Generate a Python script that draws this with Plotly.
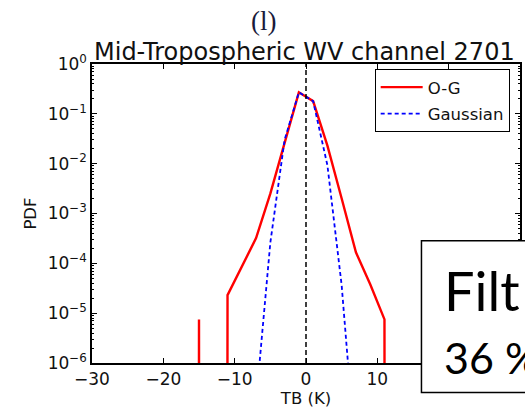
import plotly.graph_objects as go

# ---------------- data ----------------
og_x = [-17, -15, -13, -11, -9, -7, -5, -3, -1, 1, 3, 5, 7, 9, 11, 13]
og_pdf = [0, 7.5e-6, 0, 2.3e-5, 8.5e-5, 3.2e-4, 2.5e-3, 2.6e-2, 0.27, 0.18,
          2.3e-2, 2.0e-3, 1.66e-4, 3.8e-5, 7.5e-6, 0]

gauss_x = [-9, -7, -5, -3, -1, 1, 3, 5, 7, 9]
gauss_pdf = [1e-11, 1.7e-7, 2.6e-4, 3.0e-2, 0.27, 0.18, 9.3e-3, 3.6e-5, 1.1e-8, 1e-12]

x_ticks = [-30, -20, -10, 0, 10, 20, 30]
x_ticklabels = ["\u221230", "\u221220", "\u221210", "0", "10", "", ""]  # 20, 30 hidden under the box
y_tick_exp = [0, -1, -2, -3, -4, -5, -6]

title_top = "(l)"
title_main = "Mid-Tropospheric WV channel 2701"
box_line1 = "Filt"
box_line2 = "36 %"

# zero bins cannot be drawn on a log axis: push them far below the range
TINY = 1e-300
og_plot = [v if v > 0 else TINY for v in og_pdf]

# minor tick positions for the log axis
minor_vals = [m * 10 ** e for e in range(-6, 0) for m in range(2, 10)]

# ---------------- figure ----------------
W, H = 525, 408
L, R, T, B = 92, 3, 64, 41
pw, ph = W - L - R, H - T - B

def px(xp):
    return (xp - L) / pw

def py(yp):
    return (H - B - yp) / ph

fig = go.Figure()

fig.add_trace(go.Scatter(
    x=og_x, y=og_plot, mode="lines", name="O-G",
    line=dict(color="#ff0000", width=2.4), legendgroup="a"))
fig.add_trace(go.Scatter(
    x=gauss_x, y=gauss_pdf, mode="lines", name="Gaussian",
    line=dict(color="#0000ff", width=1.8, dash="4px,3px"), legendgroup="b"))

# vertical dashed zero line
fig.add_shape(type="line", xref="x", yref="paper", x0=0, x1=0, y0=0, y1=1,
              line=dict(color="black", width=1.5, dash="5px,3px"), layer="above")

tickfont = dict(family="DejaVu Sans", size=17, color="#111")
labfont = dict(family="DejaVu Sans", size=16.5, color="#111")

fig.update_xaxes(
    range=[-30, 30], tickvals=x_ticks, ticktext=x_ticklabels,
    ticks="inside", ticklen=5, tickwidth=1.2, tickcolor="black",
    showline=True, linecolor="black", linewidth=1.5, mirror="allticks",
    showgrid=False, zeroline=False, tickfont=tickfont,
    title=dict(text="TB (K)", font=labfont, standoff=4),
)
fig.update_yaxes(
    type="log", range=[-6, 0],
    tickvals=[10 ** e for e in y_tick_exp],
    ticktext=["10<sup>" + ("\u2212" + str(-e) if e < 0 else str(e)) + "</sup>" for e in y_tick_exp],
    ticks="inside", ticklen=5, tickwidth=1.2, tickcolor="black",
    minor=dict(tickmode="array", tickvals=minor_vals, ticks="inside",
               ticklen=2.5, tickwidth=1, tickcolor="black", showgrid=False),
    showline=True, linecolor="black", linewidth=1.5, mirror="allticks",
    showgrid=False, zeroline=False, tickfont=tickfont,
    title=dict(text="PDF", font=labfont, standoff=7),
)

# overlay box "Filt / 36 %"
fig.add_shape(type="rect", xref="paper", yref="paper",
              x0=px(423), x1=px(560), y0=py(397), y1=py(243),
              line=dict(color="black", width=1.5), fillcolor="white", layer="above")

annotations = [
    dict(text=title_top, x=px(264), y=py(20), xref="paper", yref="paper",
         showarrow=False, xanchor="center", yanchor="middle",
         font=dict(family="Liberation Serif", size=27, color="#1a1a3a")),
    dict(text=title_main, x=px(305), y=py(52), xref="paper", yref="paper",
         showarrow=False, xanchor="center", yanchor="middle",
         font=dict(family="DejaVu Sans", size=24, color="#111")),
    dict(text=box_line1, x=px(444), y=py(294), xref="paper", yref="paper",
         showarrow=False, xanchor="left", yanchor="middle",
         font=dict(family="Lato", size=54, color="black")),
    dict(text=box_line2, x=px(444), y=py(361), xref="paper", yref="paper",
         showarrow=False, xanchor="left", yanchor="middle",
         font=dict(family="Lato", size=43, color="black")),
]

fig.update_layout(
    width=W, height=H,
    margin=dict(l=L, r=R, t=T, b=B, pad=0),
    paper_bgcolor="white", plot_bgcolor="white",
    annotations=annotations,
    showlegend=True,
    legend=dict(x=px(376), y=py(69), xanchor="left", yanchor="top",
                bgcolor="white", bordercolor="black", borderwidth=1,
                font=dict(family="DejaVu Sans", size=16.5, color="#111"),
                itemwidth=42, tracegroupgap=2),
)

fig.write_html("out.html")
